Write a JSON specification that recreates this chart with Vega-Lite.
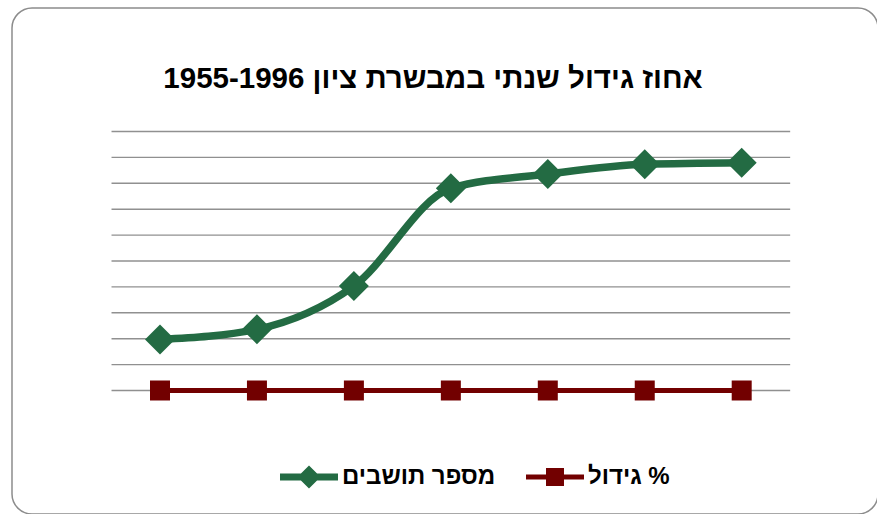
{
  "$schema": "https://vega.github.io/schema/vega-lite/v6.json",
  "width": 866,
  "height": 506,
  "autosize": {"type": "none"},
  "padding": {"left": 12, "top": 8, "right": 0, "bottom": 0},
  "background": "white",
  "config": {
    "view": {"stroke": "#8c8c8c", "strokeWidth": 1.5, "cornerRadius": 20},
    "font": "Liberation Sans"
  },
  "title": {
    "text": "אחוז גידול שנתי במבשרת ציון 1955-1996",
    "fontSize": 29.5,
    "fontWeight": "bold",
    "color": "black",
    "font": "Liberation Sans",
    "anchor": "middle",
    "offset": -86,
    "dx": -12
  },
  "datasets": {
    "series": [
      {"year": "1955", "series": "מספר תושבים", "value": 3938},
      {"year": "1961", "series": "מספר תושבים", "value": 4726},
      {"year": "1972", "series": "מספר תושבים", "value": 8069},
      {"year": "1983", "series": "מספר תושבים", "value": 15614},
      {"year": "1990", "series": "מספר תושבים", "value": 16718},
      {"year": "1995", "series": "מספר תושבים", "value": 17467},
      {"year": "1996", "series": "מספר תושבים", "value": 17591},
      {"year": "1955", "series": "גידול %", "value": 0},
      {"year": "1961", "series": "גידול %", "value": 0},
      {"year": "1972", "series": "גידול %", "value": 0},
      {"year": "1983", "series": "גידול %", "value": 0},
      {"year": "1990", "series": "גידול %", "value": 0},
      {"year": "1995", "series": "גידול %", "value": 0},
      {"year": "1996", "series": "גידול %", "value": 0}
    ],
    "grid": [
      {"g": 0, "a": "1955", "b": "1996"},
      {"g": 2000, "a": "1955", "b": "1996"},
      {"g": 4000, "a": "1955", "b": "1996"},
      {"g": 6000, "a": "1955", "b": "1996"},
      {"g": 8000, "a": "1955", "b": "1996"},
      {"g": 10000, "a": "1955", "b": "1996"},
      {"g": 12000, "a": "1955", "b": "1996"},
      {"g": 14000, "a": "1955", "b": "1996"},
      {"g": 16000, "a": "1955", "b": "1996"},
      {"g": 18000, "a": "1955", "b": "1996"},
      {"g": 20000, "a": "1955", "b": "1996"}
    ]
  },
  "resolve": {"scale": {"x": "shared", "y": "shared"}},
  "layer": [
    {
      "data": {"name": "grid"},
      "mark": {"type": "rule", "color": "#909090", "strokeWidth": 1.4},
      "encoding": {
        "x": {
          "field": "a",
          "type": "ordinal",
          "bandPosition": 0,
          "axis": null,
          "scale": {
            "type": "band",
            "domain": ["1955", "1961", "1972", "1983", "1990", "1995", "1996"],
            "paddingInner": 0,
            "paddingOuter": 0.9662,
            "align": 0.5312
          }
        },
        "x2": {"field": "b", "bandPosition": 1},
        "y": {
          "field": "g",
          "type": "quantitative",
          "axis": null,
          "scale": {"domain": [-9537, 29537], "nice": false, "zero": false}
        }
      }
    },
    {
      "data": {"name": "series"},
      "transform": [{"filter": "datum.series === 'גידול %'"}],
      "mark": {"type": "line", "strokeWidth": 5, "interpolate": "linear"},
      "encoding": {
        "x": {"field": "year", "type": "ordinal"},
        "y": {"field": "value", "type": "quantitative"},
        "color": {
          "field": "series",
          "type": "nominal",
          "scale": {"domain": ["מספר תושבים", "גידול %"], "range": ["#236b43", "#720000"]},
          "legend": {
            "orient": "none",
            "legendX": 268,
            "legendY": 440,
            "direction": "horizontal",
            "title": null,
            "padding": 0,
            "symbolSize": 3364,
            "symbolStrokeWidth": 0,
            "labelFontSize": 24,
            "labelFontWeight": "bold",
            "labelFont": "Liberation Sans",
            "labelColor": "black",
            "labelOffset": 4,
            "columnPadding": 30,
            "encode": {
              "symbols": {
                "update": {
                  "shape": {"signal": "datum.value === 'מספר תושבים' ? 'M-1,-0.12H1V0.12H-1Z M-0.4,0L0,-0.4L0.4,0L0,0.4Z' : 'M-1,-0.09H1V0.09H-1Z M-0.31,-0.31H0.31V0.31H-0.31Z'"},
                  "fill": {"signal": "datum.value === 'מספר תושבים' ? '#236b43' : '#720000'"},
                  "stroke": {"value": "transparent"},
                  "strokeWidth": {"value": 0},
                  "opacity": {"value": 1},
                  "fillOpacity": {"value": 1}
                }
              }
            }
          }
        }
      }
    },
    {
      "data": {"name": "series"},
      "transform": [{"filter": "datum.series === 'גידול %'"}],
      "mark": {"type": "point", "shape": "square", "size": 400, "filled": true, "opacity": 1},
      "encoding": {
        "x": {"field": "year", "type": "ordinal"},
        "y": {"field": "value", "type": "quantitative"},
        "color": {"field": "series", "type": "nominal"}
      }
    },
    {
      "data": {"name": "series"},
      "transform": [{"filter": "datum.series === 'מספר תושבים'"}],
      "mark": {"type": "line", "strokeWidth": 7.5, "interpolate": "monotone", "strokeCap": "round"},
      "encoding": {
        "x": {"field": "year", "type": "ordinal"},
        "y": {"field": "value", "type": "quantitative"},
        "color": {"field": "series", "type": "nominal"}
      }
    },
    {
      "data": {"name": "series"},
      "transform": [{"filter": "datum.series === 'מספר תושבים'"}],
      "mark": {"type": "point", "shape": "diamond", "size": 900, "filled": true, "opacity": 1},
      "encoding": {
        "x": {"field": "year", "type": "ordinal"},
        "y": {"field": "value", "type": "quantitative"},
        "color": {"field": "series", "type": "nominal"}
      }
    }
  ]
}
